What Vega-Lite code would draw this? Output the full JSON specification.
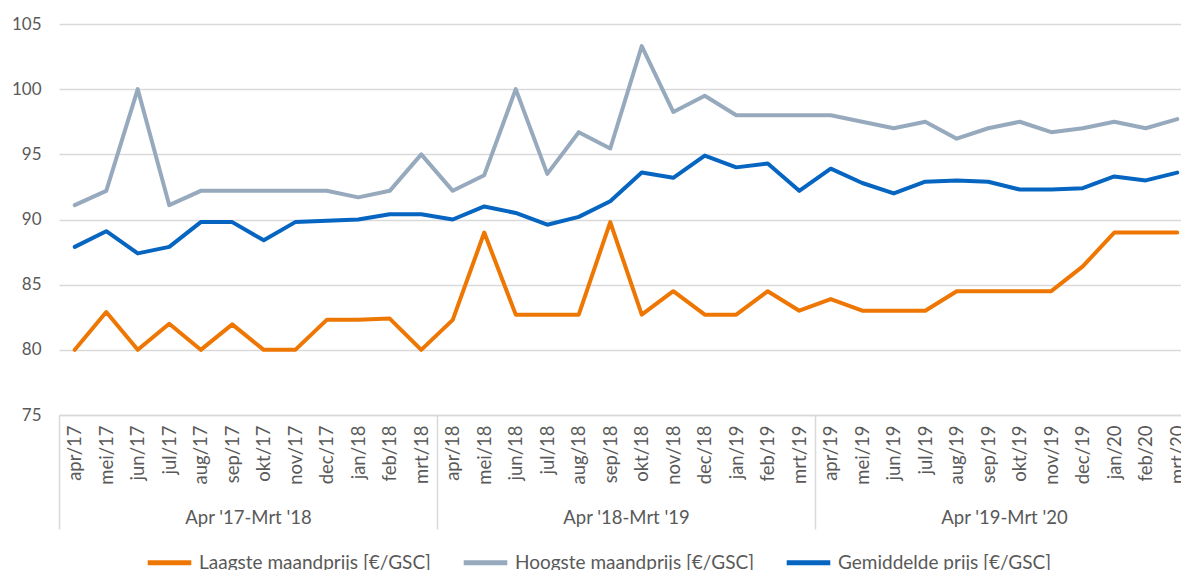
{
  "$schema": "https://vega.github.io/schema/vega-lite/v6.json",
  "width": 1122,
  "height": 391,
  "autosize": {"type": "none"},
  "padding": {"left": 59, "top": 24, "right": 0, "bottom": 155},
  "config": {"font": "Lato", "view": {"stroke": null}},
  "layer": [
    {
      "data": {"values": [
        {"m": "apr/17", "s": "Laagste maandprijs [€/GSC]", "v": 80},
        {"m": "mei/17", "s": "Laagste maandprijs [€/GSC]", "v": 82.9},
        {"m": "jun/17", "s": "Laagste maandprijs [€/GSC]", "v": 80},
        {"m": "jul/17", "s": "Laagste maandprijs [€/GSC]", "v": 82.0},
        {"m": "aug/17", "s": "Laagste maandprijs [€/GSC]", "v": 80},
        {"m": "sep/17", "s": "Laagste maandprijs [€/GSC]", "v": 81.95},
        {"m": "okt/17", "s": "Laagste maandprijs [€/GSC]", "v": 80},
        {"m": "nov/17", "s": "Laagste maandprijs [€/GSC]", "v": 80},
        {"m": "dec/17", "s": "Laagste maandprijs [€/GSC]", "v": 82.3},
        {"m": "jan/18", "s": "Laagste maandprijs [€/GSC]", "v": 82.3},
        {"m": "feb/18", "s": "Laagste maandprijs [€/GSC]", "v": 82.4},
        {"m": "mrt/18", "s": "Laagste maandprijs [€/GSC]", "v": 80},
        {"m": "apr/18", "s": "Laagste maandprijs [€/GSC]", "v": 82.3},
        {"m": "mei/18", "s": "Laagste maandprijs [€/GSC]", "v": 89.0},
        {"m": "jun/18", "s": "Laagste maandprijs [€/GSC]", "v": 82.7},
        {"m": "jul/18", "s": "Laagste maandprijs [€/GSC]", "v": 82.7},
        {"m": "aug/18", "s": "Laagste maandprijs [€/GSC]", "v": 82.7},
        {"m": "sep/18", "s": "Laagste maandprijs [€/GSC]", "v": 89.8},
        {"m": "okt/18", "s": "Laagste maandprijs [€/GSC]", "v": 82.7},
        {"m": "nov/18", "s": "Laagste maandprijs [€/GSC]", "v": 84.5},
        {"m": "dec/18", "s": "Laagste maandprijs [€/GSC]", "v": 82.7},
        {"m": "jan/19", "s": "Laagste maandprijs [€/GSC]", "v": 82.7},
        {"m": "feb/19", "s": "Laagste maandprijs [€/GSC]", "v": 84.5},
        {"m": "mrt/19", "s": "Laagste maandprijs [€/GSC]", "v": 83.0},
        {"m": "apr/19", "s": "Laagste maandprijs [€/GSC]", "v": 83.9},
        {"m": "mei/19", "s": "Laagste maandprijs [€/GSC]", "v": 83.0},
        {"m": "jun/19", "s": "Laagste maandprijs [€/GSC]", "v": 83.0},
        {"m": "jul/19", "s": "Laagste maandprijs [€/GSC]", "v": 83.0},
        {"m": "aug/19", "s": "Laagste maandprijs [€/GSC]", "v": 84.5},
        {"m": "sep/19", "s": "Laagste maandprijs [€/GSC]", "v": 84.5},
        {"m": "okt/19", "s": "Laagste maandprijs [€/GSC]", "v": 84.5},
        {"m": "nov/19", "s": "Laagste maandprijs [€/GSC]", "v": 84.5},
        {"m": "dec/19", "s": "Laagste maandprijs [€/GSC]", "v": 86.4},
        {"m": "jan/20", "s": "Laagste maandprijs [€/GSC]", "v": 89.0},
        {"m": "feb/20", "s": "Laagste maandprijs [€/GSC]", "v": 89.0},
        {"m": "mrt/20", "s": "Laagste maandprijs [€/GSC]", "v": 89.0},
        {"m": "apr/17", "s": "Hoogste maandprijs [€/GSC]", "v": 91.1},
        {"m": "mei/17", "s": "Hoogste maandprijs [€/GSC]", "v": 92.2},
        {"m": "jun/17", "s": "Hoogste maandprijs [€/GSC]", "v": 100},
        {"m": "jul/17", "s": "Hoogste maandprijs [€/GSC]", "v": 91.1},
        {"m": "aug/17", "s": "Hoogste maandprijs [€/GSC]", "v": 92.2},
        {"m": "sep/17", "s": "Hoogste maandprijs [€/GSC]", "v": 92.2},
        {"m": "okt/17", "s": "Hoogste maandprijs [€/GSC]", "v": 92.2},
        {"m": "nov/17", "s": "Hoogste maandprijs [€/GSC]", "v": 92.2},
        {"m": "dec/17", "s": "Hoogste maandprijs [€/GSC]", "v": 92.2},
        {"m": "jan/18", "s": "Hoogste maandprijs [€/GSC]", "v": 91.7},
        {"m": "feb/18", "s": "Hoogste maandprijs [€/GSC]", "v": 92.2},
        {"m": "mrt/18", "s": "Hoogste maandprijs [€/GSC]", "v": 95.0},
        {"m": "apr/18", "s": "Hoogste maandprijs [€/GSC]", "v": 92.2},
        {"m": "mei/18", "s": "Hoogste maandprijs [€/GSC]", "v": 93.4},
        {"m": "jun/18", "s": "Hoogste maandprijs [€/GSC]", "v": 100},
        {"m": "jul/18", "s": "Hoogste maandprijs [€/GSC]", "v": 93.5},
        {"m": "aug/18", "s": "Hoogste maandprijs [€/GSC]", "v": 96.7},
        {"m": "sep/18", "s": "Hoogste maandprijs [€/GSC]", "v": 95.45},
        {"m": "okt/18", "s": "Hoogste maandprijs [€/GSC]", "v": 103.3},
        {"m": "nov/18", "s": "Hoogste maandprijs [€/GSC]", "v": 98.25},
        {"m": "dec/18", "s": "Hoogste maandprijs [€/GSC]", "v": 99.5},
        {"m": "jan/19", "s": "Hoogste maandprijs [€/GSC]", "v": 98.0},
        {"m": "feb/19", "s": "Hoogste maandprijs [€/GSC]", "v": 98.0},
        {"m": "mrt/19", "s": "Hoogste maandprijs [€/GSC]", "v": 98.0},
        {"m": "apr/19", "s": "Hoogste maandprijs [€/GSC]", "v": 98.0},
        {"m": "mei/19", "s": "Hoogste maandprijs [€/GSC]", "v": 97.5},
        {"m": "jun/19", "s": "Hoogste maandprijs [€/GSC]", "v": 97.0},
        {"m": "jul/19", "s": "Hoogste maandprijs [€/GSC]", "v": 97.5},
        {"m": "aug/19", "s": "Hoogste maandprijs [€/GSC]", "v": 96.2},
        {"m": "sep/19", "s": "Hoogste maandprijs [€/GSC]", "v": 97.0},
        {"m": "okt/19", "s": "Hoogste maandprijs [€/GSC]", "v": 97.5},
        {"m": "nov/19", "s": "Hoogste maandprijs [€/GSC]", "v": 96.7},
        {"m": "dec/19", "s": "Hoogste maandprijs [€/GSC]", "v": 97.0},
        {"m": "jan/20", "s": "Hoogste maandprijs [€/GSC]", "v": 97.5},
        {"m": "feb/20", "s": "Hoogste maandprijs [€/GSC]", "v": 97.0},
        {"m": "mrt/20", "s": "Hoogste maandprijs [€/GSC]", "v": 97.7},
        {"m": "apr/17", "s": "Gemiddelde prijs [€/GSC]", "v": 87.9},
        {"m": "mei/17", "s": "Gemiddelde prijs [€/GSC]", "v": 89.1},
        {"m": "jun/17", "s": "Gemiddelde prijs [€/GSC]", "v": 87.4},
        {"m": "jul/17", "s": "Gemiddelde prijs [€/GSC]", "v": 87.9},
        {"m": "aug/17", "s": "Gemiddelde prijs [€/GSC]", "v": 89.8},
        {"m": "sep/17", "s": "Gemiddelde prijs [€/GSC]", "v": 89.8},
        {"m": "okt/17", "s": "Gemiddelde prijs [€/GSC]", "v": 88.4},
        {"m": "nov/17", "s": "Gemiddelde prijs [€/GSC]", "v": 89.8},
        {"m": "dec/17", "s": "Gemiddelde prijs [€/GSC]", "v": 89.9},
        {"m": "jan/18", "s": "Gemiddelde prijs [€/GSC]", "v": 90.0},
        {"m": "feb/18", "s": "Gemiddelde prijs [€/GSC]", "v": 90.4},
        {"m": "mrt/18", "s": "Gemiddelde prijs [€/GSC]", "v": 90.4},
        {"m": "apr/18", "s": "Gemiddelde prijs [€/GSC]", "v": 90.0},
        {"m": "mei/18", "s": "Gemiddelde prijs [€/GSC]", "v": 91.0},
        {"m": "jun/18", "s": "Gemiddelde prijs [€/GSC]", "v": 90.5},
        {"m": "jul/18", "s": "Gemiddelde prijs [€/GSC]", "v": 89.6},
        {"m": "aug/18", "s": "Gemiddelde prijs [€/GSC]", "v": 90.2},
        {"m": "sep/18", "s": "Gemiddelde prijs [€/GSC]", "v": 91.4},
        {"m": "okt/18", "s": "Gemiddelde prijs [€/GSC]", "v": 93.6},
        {"m": "nov/18", "s": "Gemiddelde prijs [€/GSC]", "v": 93.2},
        {"m": "dec/18", "s": "Gemiddelde prijs [€/GSC]", "v": 94.9},
        {"m": "jan/19", "s": "Gemiddelde prijs [€/GSC]", "v": 94.0},
        {"m": "feb/19", "s": "Gemiddelde prijs [€/GSC]", "v": 94.3},
        {"m": "mrt/19", "s": "Gemiddelde prijs [€/GSC]", "v": 92.2},
        {"m": "apr/19", "s": "Gemiddelde prijs [€/GSC]", "v": 93.9},
        {"m": "mei/19", "s": "Gemiddelde prijs [€/GSC]", "v": 92.8},
        {"m": "jun/19", "s": "Gemiddelde prijs [€/GSC]", "v": 92.0},
        {"m": "jul/19", "s": "Gemiddelde prijs [€/GSC]", "v": 92.9},
        {"m": "aug/19", "s": "Gemiddelde prijs [€/GSC]", "v": 93.0},
        {"m": "sep/19", "s": "Gemiddelde prijs [€/GSC]", "v": 92.9},
        {"m": "okt/19", "s": "Gemiddelde prijs [€/GSC]", "v": 92.3},
        {"m": "nov/19", "s": "Gemiddelde prijs [€/GSC]", "v": 92.3},
        {"m": "dec/19", "s": "Gemiddelde prijs [€/GSC]", "v": 92.4},
        {"m": "jan/20", "s": "Gemiddelde prijs [€/GSC]", "v": 93.3},
        {"m": "feb/20", "s": "Gemiddelde prijs [€/GSC]", "v": 93.0},
        {"m": "mrt/20", "s": "Gemiddelde prijs [€/GSC]", "v": 93.6}
      ]},
      "mark": {"type": "line", "strokeWidth": 4, "strokeJoin": "round", "strokeCap": "round"},
      "encoding": {
        "x": {
          "field": "m", "type": "nominal", "sort": null,
          "scale": {"type": "point", "padding": 0.5, "range": [0, 1134]},
          "axis": {
            "title": null, "orient": "bottom", "offset": 0, "labelAngle": -90,
            "labelAlign": "right", "labelBaseline": "middle",
            "labelFontSize": 18.5, "labelColor": "#595959", "labelPadding": 10,
            "ticks": false, "domainColor": "#D9D9D9", "domainWidth": 1.5,
            "labelOverlap": false, "grid": false
          }
        },
        "y": {
          "field": "v", "type": "quantitative",
          "scale": {"domain": [75, 105], "nice": false, "zero": false},
          "axis": {
            "title": null, "values": [75, 80, 85, 90, 95, 100, 105],
            "domain": false, "ticks": false, "labelPadding": 18,
            "labelFontSize": 17, "labelColor": "#595959",
            "gridColor": "#D9D9D9", "gridWidth": 1.5
          }
        },
        "color": {
          "field": "s", "type": "nominal",
          "scale": {
            "domain": ["Laagste maandprijs [€/GSC]", "Hoogste maandprijs [€/GSC]", "Gemiddelde prijs [€/GSC]"],
            "range": ["#EE7703", "#97AABD", "#0565C0"]
          },
          "legend": {
            "orient": "none", "legendX": 86, "legendY": 514, "direction": "horizontal",
            "title": null, "symbolType": "stroke", "symbolStrokeWidth": 5,
            "symbolSize": 1900, "labelFontSize": 19, "labelColor": "#595959",
            "labelOffset": 5, "columnPadding": 22, "labelLimit": 400
          }
        }
      }
    },
    {
      "data": {"values": [
        {"p": "Apr '17-Mrt '18"},
        {"p": "Apr '18-Mrt '19"},
        {"p": "Apr '19-Mrt '20"}
      ]},
      "mark": {"type": "text", "text": "", "opacity": 0},
      "encoding": {
        "x": {
          "field": "p", "type": "nominal", "sort": null,
          "scale": {"type": "band", "paddingInner": 0, "paddingOuter": 0, "range": [0, 1134]},
          "axis": {
            "title": null, "orient": "bottom", "offset": 0, "domain": false,
            "tickBand": "extent", "tickSize": 114, "tickColor": "#D9D9D9", "tickWidth": 1.5,
            "labelPadding": -21, "labelFontSize": 18.5, "labelColor": "#595959",
            "labelAngle": 0, "labelBaseline": "top", "labelAlign": "center", "grid": false
          }
        }
      }
    }
  ],
  "resolve": {"scale": {"x": "independent"}, "axis": {"x": "independent"}}
}
